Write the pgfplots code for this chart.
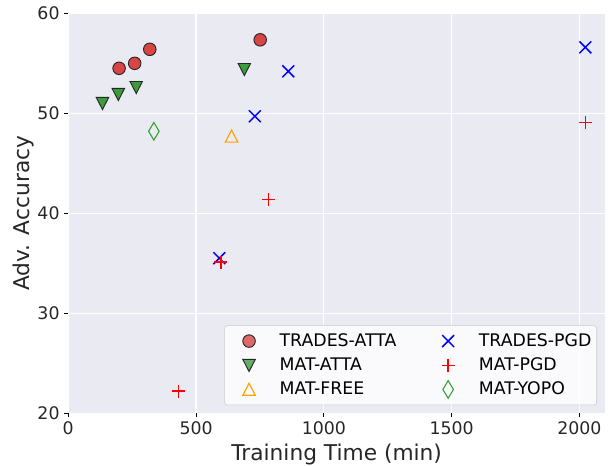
\documentclass[border=0pt]{standalone}
\usepackage{pgfplots}
\pgfplotsset{compat=1.18}
\usepackage{fontspec}
\setmainfont{DejaVu Sans}

\definecolor{bgc}{HTML}{EAEAF2}
\definecolor{txt}{HTML}{262626}
\definecolor{attared}{HTML}{D94545}
\definecolor{attagreen}{HTML}{3C9C3C}
\definecolor{yopogreen}{HTML}{2CA02C}
\definecolor{freeorange}{HTML}{FFA500}

\begin{document}
\begin{tikzpicture}
\begin{axis}[
  name=ax,
  scale only axis,
  width=402.75pt, height=300pt,
  xmin=0, xmax=2100,
  ymin=20, ymax=60,
  xtick={0,500,1000,1500,2000},
  ytick={20,30,40,50,60},
  axis background/.style={fill=bgc},
  axis line style={draw=none},
  grid=major,
  major grid style={white, line width=0.9pt},
  tick align=outside,
  tick pos=left,
  major tick length=3pt,
  tick style={black, line width=0.8pt},
  /pgf/number format/assume math mode=true,
  /pgf/number format/1000 sep={},
  ticklabel style={font=\fontsize{13}{15}\selectfont, text=txt},
  xlabel={Training Time (min)},
  ylabel={Adv. Accuracy},
  label style={font=\fontsize{16.3}{18}\selectfont, text=txt},
  xlabel style={yshift=0pt},
  ylabel style={yshift=-4pt},
  legend columns=2,
  legend cell align=left,
  legend style={at={(1,0)}, anchor=south east, xshift=-6pt, yshift=6pt,
    fill=white, fill opacity=0.8, text opacity=1, draw=black!20,
    rounded corners=2pt, font=\fontsize{13}{15}\selectfont,
    inner xsep=2pt, inner ysep=4pt, row sep=3pt,
    /tikz/column 1/.style={column sep=12.5pt},
    /tikz/column 2/.style={column sep=20.25pt},
    /tikz/column 3/.style={column sep=12.5pt}},
  legend image code/.code={\path (0pt,0pt) (24pt,0pt); \draw[#1] plot coordinates {(16pt,0pt)};},
]
\addplot[only marks, mark=*, mark size=4.7pt, draw=black!85, fill=attared, line width=0.7pt]
  coordinates {(199,54.5) (260,55.0) (319,56.4) (751,57.35)};
\addlegendentry{TRADES-ATTA}
\addplot[only marks, mark=x, mark size=6.3pt, draw=blue, line width=1.1pt]
  coordinates {(591,35.5) (730,49.7) (861,54.2) (2023,56.6)};
\addlegendentry{TRADES-PGD}
\addplot[only marks, mark=triangle*, mark size=5.4pt, draw=black!85, fill=attagreen, line width=0.7pt,
  mark options={yshift=1.35pt, rotate=180, yscale=1.12}]
  coordinates {(134,51.0) (196,51.9) (266,52.6) (689,54.4)};
\addlegendentry{MAT-ATTA}
\addplot[only marks, mark=+, mark size=4.8pt, draw=red, line width=1.1pt]
  coordinates {(432,22.2) (597,35.1) (784,41.4) (2023,49.1)};
\addlegendentry{MAT-PGD}
\addplot[only marks, mark=triangle, mark size=5.4pt, draw=freeorange, line width=0.9pt,
  mark options={yshift=-1.35pt, yscale=1.12}]
  coordinates {(639,47.7)};
\addlegendentry{MAT-FREE}
\addplot[only marks, mark=diamond, mark size=6.6pt, draw=yopogreen, line width=0.8pt,
  mark options={xscale=0.8}]
  coordinates {(335,48.2)};
\addlegendentry{MAT-YOPO}
\end{axis}
\pgfresetboundingbox
\path[use as bounding box] ([xshift=-51.2pt,yshift=-39pt]ax.south west) rectangle ([xshift=3.75pt,yshift=10pt]ax.north east);
\end{tikzpicture}
\end{document}
